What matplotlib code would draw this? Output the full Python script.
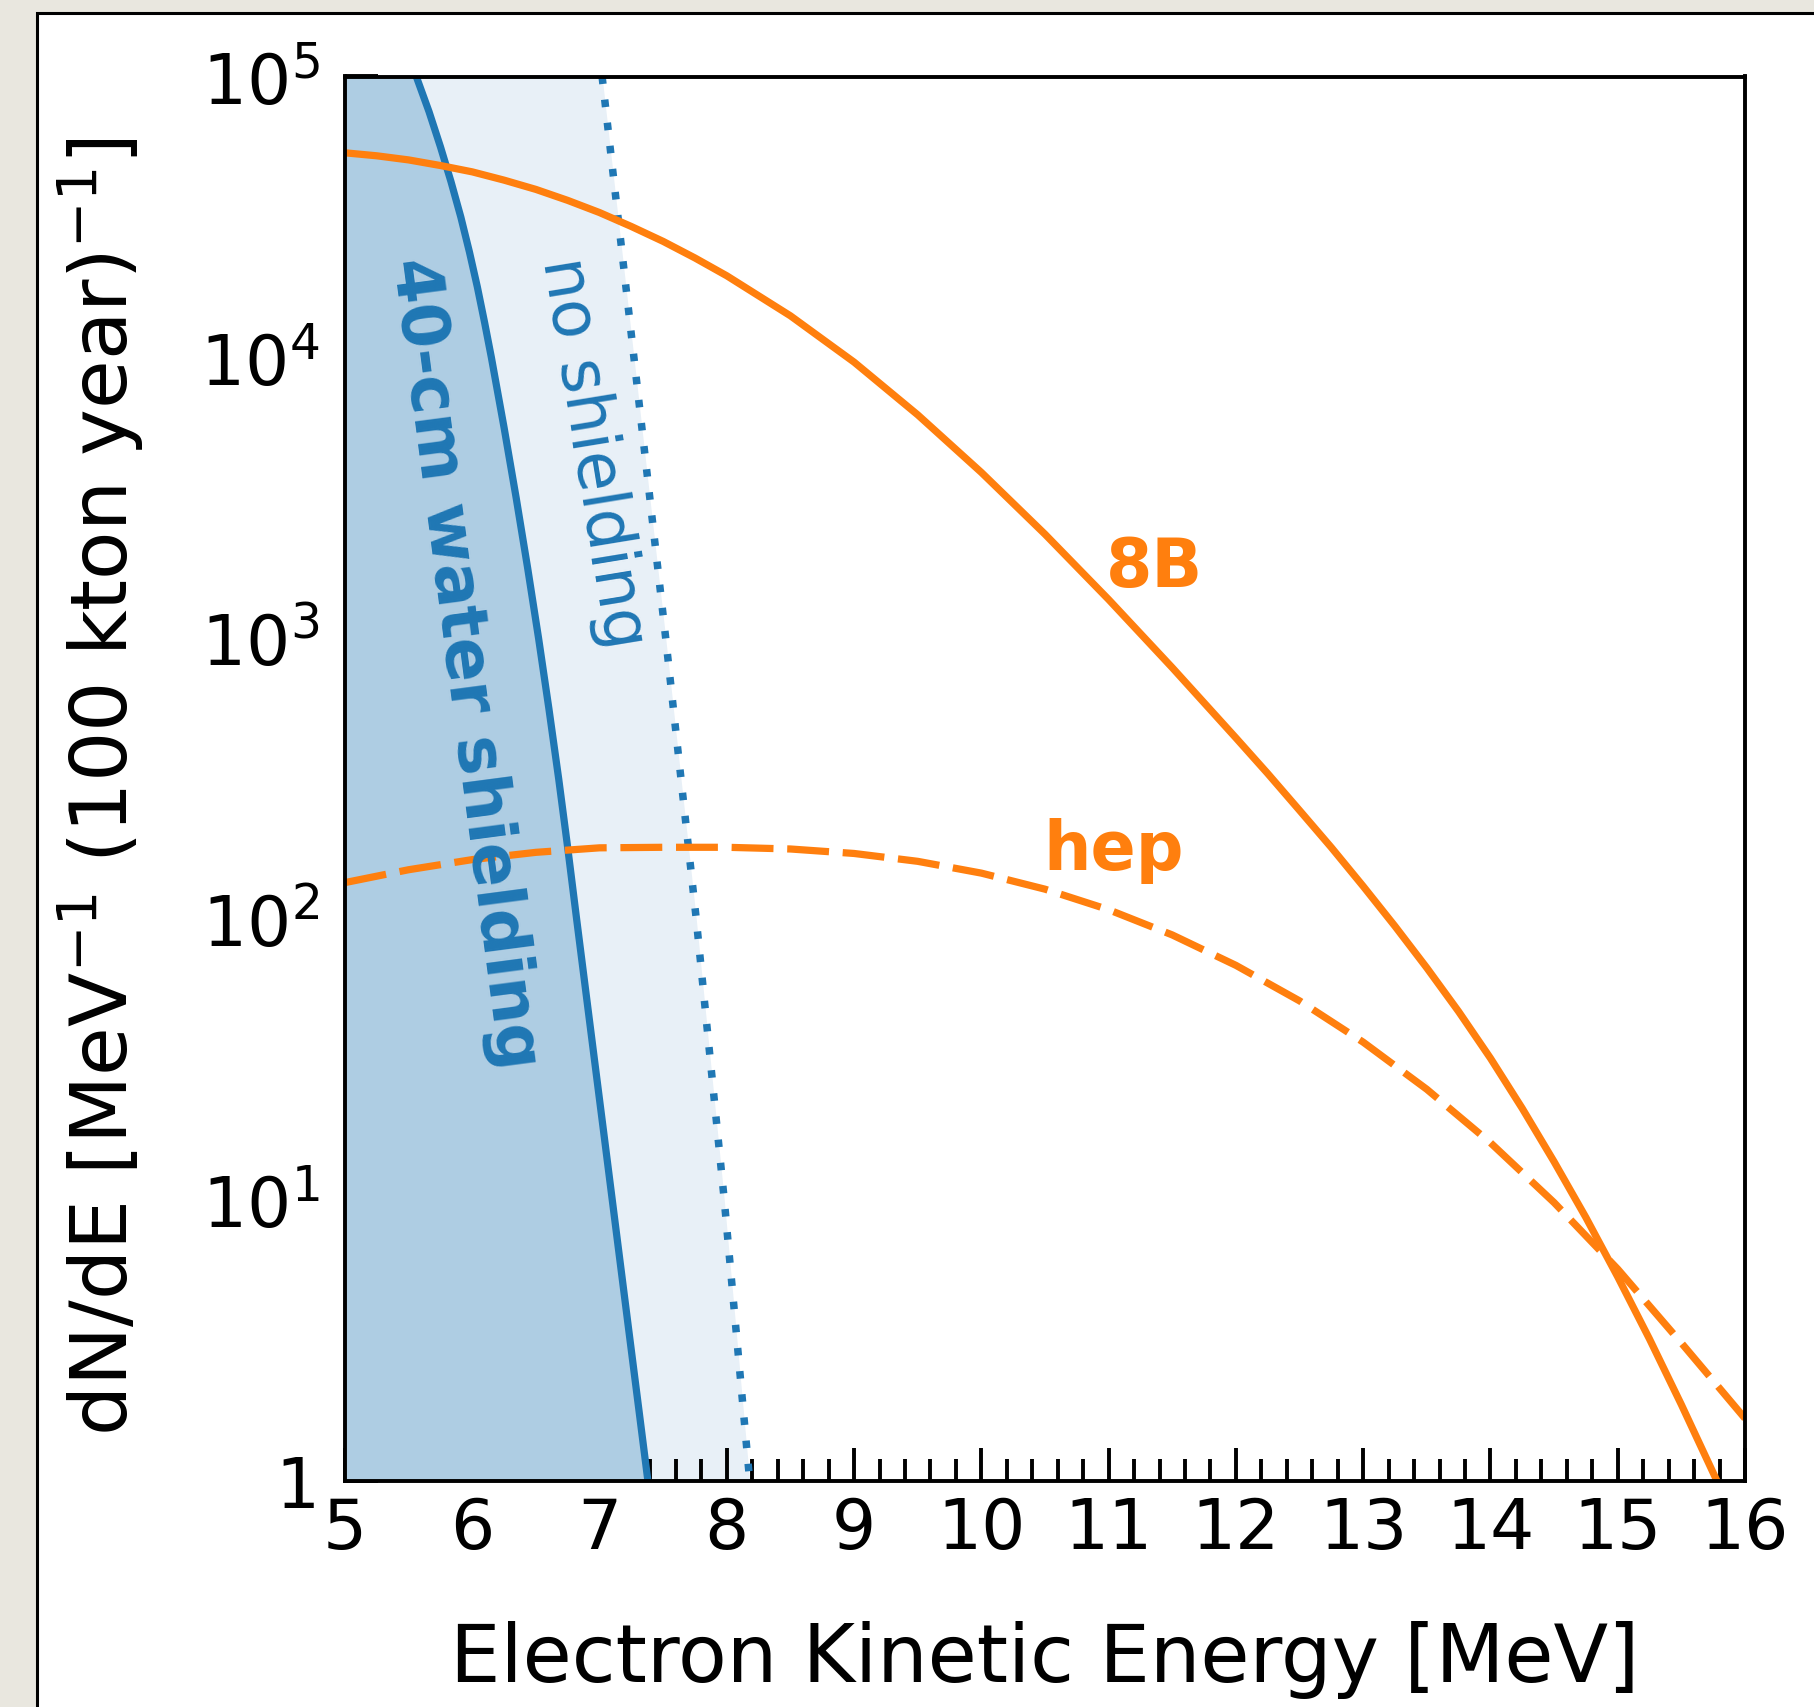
import numpy as np
import matplotlib
matplotlib.use("Agg")
import matplotlib.pyplot as plt
from matplotlib.patches import Rectangle
from matplotlib.ticker import FixedLocator, MultipleLocator, LogLocator, FuncFormatter, NullFormatter

plt.rcParams['font.family'] = ['DejaVu Sans']
plt.rcParams['mathtext.default'] = 'regular'

# 8B solar neutrino spectrum (solid orange)
e_8b = [5.0, 5.25, 5.5, 5.75, 6.0, 6.25, 6.5, 6.75, 7.0, 7.25, 7.5, 7.75, 8.0,
        8.5, 9.0, 9.5, 10.0, 10.5, 11.0, 11.5, 12.0, 12.25, 12.5, 12.75, 13.0,
        13.25, 13.5, 13.75, 14.0, 14.25, 14.5, 14.75, 15.0, 15.25, 15.5, 15.78]
rate_8b = [53500, 52200, 50470, 48200, 45760, 42760, 39630, 36220, 32780,
           29240, 25880, 22590, 19520, 14060, 9620, 6245, 3895, 2347, 1374,
           786, 442, 330, 244, 180, 131, 94.4, 67.1, 46.9, 32.0, 21.2, 13.7,
           8.67, 5.33, 3.2, 1.87, 1.0]

# hep spectrum (dashed orange)
e_hep = [5.0, 5.5, 6.0, 6.5, 7.0, 7.5, 8.0, 8.5, 9.0, 9.5, 10.0, 10.5, 11.0,
         11.5, 12.0, 12.5, 13.0, 13.5, 14.0, 14.5, 15.0, 15.5, 16.0]
rate_hep = [135, 150, 163, 173, 179.5, 180.3, 180.3, 177.8, 171.4, 160.7,
            145.9, 127.9, 108.1, 87.9, 68.5, 51.2, 36.5, 24.8, 16.0, 9.8,
            5.68, 3.10, 1.67]

# spallation background with 40-cm water shielding (solid blue)
e_shield = [5.56, 5.66, 5.75, 5.833, 5.91, 5.978, 6.04, 6.097, 6.15, 6.25,
            6.345, 6.435, 6.521, 6.602, 6.679, 6.751, 6.82, 6.89, 6.96, 7.03,
            7.10, 7.17, 7.24, 7.31, 7.38]
rate_shield = [1e5, 75000, 56200, 42200, 31600, 23700, 17800, 13300, 1e4,
               5620, 3160, 1780, 1e3, 562, 316, 178, 100, 56.2, 31.6, 17.8,
               10, 5.62, 3.16, 1.78, 1]

# spallation background without shielding (dotted blue)
e_noshield = [7.02, 7.145, 7.27, 7.395, 7.52, 7.64, 7.76, 7.87, 7.98, 8.08, 8.18]
rate_noshield = [1e5, 31600, 1e4, 3160, 1e3, 316, 100, 31.6, 10, 3.16, 1]

x_ticks = [5, 6, 7, 8, 9, 10, 11, 12, 13, 14, 15, 16]
y_ticks = [1, 1e1, 1e2, 1e3, 1e4, 1e5]

blue = '#1f77b4'
orange = '#ff7f0e'

fig = plt.figure(figsize=(18.14, 17.08), dpi=100)
fig.patch.set_facecolor('#e9e7df')
panel = Rectangle((37 / 1814, -0.05), 1.2, 1 - 14 / 1708 + 0.05,
                  transform=fig.transFigure, facecolor='white',
                  edgecolor='black', lw=2.2, zorder=-10)
fig.add_artist(panel)

ax = fig.add_axes([345 / 1814, 1 - 1482 / 1708, 1400 / 1814, 1404.5 / 1708])
ax.set_yscale('log')

ax.fill_betweenx(rate_noshield, 5, e_noshield, color='#e8f0f7', lw=0, zorder=1)
ax.fill_betweenx(rate_shield, 5, e_shield, color='#aecde3', lw=0, zorder=2)
ax.plot(e_noshield, rate_noshield, color=blue, lw=5.4, ls=(0, (1, 2.1)), zorder=3)
ax.plot(e_shield, rate_shield, color=blue, lw=5.2, zorder=3)
ax.plot(e_8b, rate_8b, color=orange, lw=5.2, zorder=4)
ax.plot(e_hep, rate_hep, color=orange, lw=5.2, ls=(0, (5.8, 1.9)), zorder=4)

ax.text(5.94, 820, '40-cm water shielding', color=blue, fontsize=47,
        fontweight='bold', rotation=-82.5, ha='center', va='center',
        rotation_mode='anchor', zorder=5)
ax.text(6.945, 4600, 'no shielding', color=blue, fontsize=47,
        rotation=-80.7, ha='center', va='center', rotation_mode='anchor', zorder=5)
ax.text(11.36, 1800, '8B', color=orange, fontsize=48, fontweight='bold',
        ha='center', va='center', zorder=5)
ax.text(11.04, 176, 'hep', color=orange, fontsize=48, fontweight='bold',
        ha='center', va='center', zorder=5)

ax.set_xlim(5, 16)
ax.set_ylim(1, 1e5)
ax.xaxis.set_major_locator(FixedLocator(x_ticks))
ax.xaxis.set_minor_locator(MultipleLocator(0.2))
ax.yaxis.set_major_locator(FixedLocator(y_ticks))
ax.yaxis.set_minor_locator(LogLocator(base=10, subs=range(2, 10), numticks=20))
ax.yaxis.set_minor_formatter(NullFormatter())


def fmt_y(v, pos):
    n = int(round(np.log10(v)))
    return '1' if n == 0 else r'$10^{%d}$' % n


ax.yaxis.set_major_formatter(FuncFormatter(fmt_y))

for s in ax.spines.values():
    s.set_linewidth(2.8)
    s.set_zorder(6)
ax.tick_params(which='both', direction='in', top=False, right=False, width=2.8,
               labelsize=50)
ax.tick_params(which='major', length=23.5)
ax.tick_params(which='minor', length=15.5)
ax.tick_params(axis='x', which='major', pad=10)
ax.tick_params(axis='y', which='major', pad=18.5)

ax.set_xlabel('Electron Kinetic Energy [MeV]', fontsize=57.5)
ax.set_ylabel(r'dN/dE [MeV$^{-1}$ (100 kton year)$^{-1}$]', fontsize=57)
ax.xaxis.set_label_coords(0.5, -0.099)
ax.yaxis.set_label_coords(-0.1424, 0.495)

fig.savefig('out.png', dpi=100, facecolor=fig.get_facecolor())
